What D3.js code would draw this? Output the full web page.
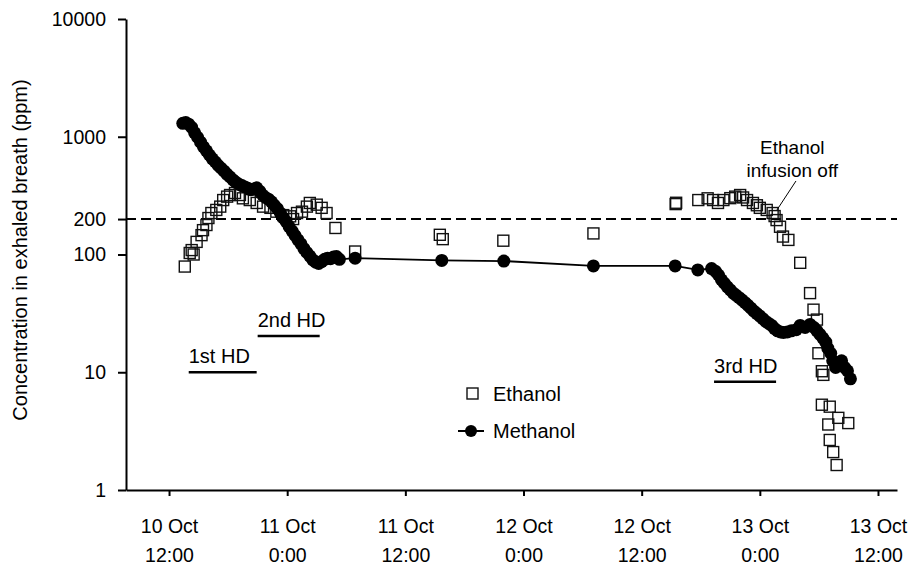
<!DOCTYPE html>
<html>
<head>
	<script src="https://cdn.jsdelivr.net/npm/d3@7"></script>
	<style>
		html, body {
			padding: 0;
			margin: 0;
			background: white;
		}
		svg text {
			font-family: "Liberation Sans", Arial, sans-serif;
			fill: black;
		}
	</style>
</head>
<body>
	<div id="chart"></div>

	<script>
		// hours counted from 10 Oct 0:00
		var xTickHours = [12, 24, 36, 48, 60, 72, 84];
		var xTickDays = ["10 Oct", "11 Oct", "11 Oct", "12 Oct", "12 Oct", "13 Oct", "13 Oct"];
		var xTickTimes = ["12:00", "0:00", "12:00", "0:00", "12:00", "0:00", "12:00"];
		var yTicks = [1, 10, 100, 200, 1000, 10000];

		// [hour, ppm]
		var ethanol = [
			[13.6, 79], [14.1, 103], [14.3, 109], [14.5, 100], [14.8, 128], [15.3, 146], [15.45, 161],
			[15.8, 178], [16.0, 204], [16.3, 225], [16.8, 239], [17.2, 255], [17.5, 290], [17.9, 310],
			[18.2, 320], [18.7, 333], [19.2, 320], [19.5, 300], [20.2, 290], [20.9, 274], [21.55, 255],
			[22.3, 249], [22.9, 231], [23.6, 216], [24.3, 211], [24.6, 200], [25.0, 225], [25.5, 231],
			[26.0, 255], [26.3, 274], [27.0, 265], [27.5, 249], [28.0, 225], [28.9, 168], [30.9, 106],
			[39.5, 147], [39.8, 135], [45.95, 131], [55.1, 151],
			[63.5, 275], [63.45, 268], [65.75, 290], [66.7, 300], [67.25, 290], [67.75, 274], [68.3, 290],
			[69.0, 301], [69.5, 310], [70.0, 320], [70.3, 305], [70.7, 290], [71.3, 274], [71.7, 262],
			[72.0, 249], [72.7, 239], [73.3, 225], [73.5, 212], [73.7, 196], [74.05, 172], [74.35, 142],
			[74.9, 133], [76.1, 85], [77.1, 47], [77.45, 34], [77.8, 28], [77.95, 14.5], [78.3, 10.2],
			[78.45, 9.5], [78.3, 5.3], [79.1, 5.1], [79.97, 4.1], [80.98, 3.7], [78.95, 3.6], [79.1, 2.66],
			[79.45, 2.1], [79.8, 1.63]
		];

		var methanol = [
			[13.4, 1300], [13.7, 1320], [14.0, 1280], [14.3, 1200], [14.6, 1080], [14.9, 990], [15.2, 900],
			[15.5, 820], [15.8, 760], [16.1, 700], [16.4, 650], [16.7, 610], [17.0, 570], [17.3, 540],
			[17.6, 510], [17.9, 480], [18.2, 455], [18.5, 430], [18.8, 410], [19.1, 395], [19.4, 385],
			[19.7, 375], [20.0, 365], [20.3, 355], [20.6, 360], [20.9, 368], [21.2, 345], [21.5, 320],
			[21.8, 305], [22.1, 295], [22.4, 280], [22.7, 262], [23.0, 245], [23.3, 225], [23.6, 205],
			[23.9, 190], [24.2, 172], [24.5, 158], [24.8, 145], [25.1, 133], [25.4, 123], [25.7, 112],
			[26.0, 104], [26.3, 97], [26.6, 90], [26.9, 86], [27.2, 84], [27.5, 87], [27.8, 91],
			[28.1, 93], [28.4, 92], [28.7, 95], [29.0, 96], [29.3, 91], [30.9, 93],
			[39.7, 89], [46.0, 88], [55.1, 80], [63.4, 80], [65.7, 74], [67.1, 76], [67.5, 72],
			[67.8, 67], [68.1, 61], [68.4, 57], [68.7, 53], [69.0, 50], [69.3, 47], [69.6, 45],
			[69.9, 43], [70.2, 41], [70.5, 39], [70.8, 37], [71.1, 35], [71.4, 33], [71.7, 31.5],
			[72.0, 30], [72.3, 28.5], [72.6, 27], [72.9, 26], [73.2, 25], [73.5, 23.5], [73.8, 22.5],
			[74.1, 22], [74.4, 21.8], [74.8, 22], [75.2, 22.5], [75.7, 23], [76.1, 25], [76.6, 24],
			[77.1, 25.5], [77.5, 24], [77.8, 22.5], [78.1, 21], [78.4, 19.5], [78.7, 18], [78.9, 16],
			[79.2, 14.5], [79.4, 12.5], [79.7, 11], [80.0, 11.8], [80.3, 12.5], [80.6, 11], [80.9, 10.3],
			[81.2, 8.8]
		];

		// dialysis sessions: start hour, end hour, ppm level of the bar
		var hdNames = ["1st HD", "2nd HD", "3rd HD"];
		var hdStart = [14.0, 21.0, 67.35];
		var hdEnd = [20.9, 27.3, 73.65];
		var hdLevel = [10, 20.3, 8.3];

		var width = 909;
		var height = 566;

		var svg = d3.select('#chart').append('svg')
			.attr('width', width)
			.attr('height', height);

		var x = d3.scaleLinear().domain([7.63, 85.93]).range([126, 897]);
		var y = d3.scaleLog().domain([1, 10000]).range([490, 19]);

		// threshold at 200 ppm
		svg.append("line")
			.attr("x1", x.range()[0]).attr("x2", x.range()[1])
			.attr("y1", y(200)).attr("y2", y(200))
			.attr("stroke", "black")
			.attr("stroke-width", 2)
			.attr("stroke-dasharray", "10,5");

		// axes
		var xAxis = svg.append("g")
			.attr("transform", "translate(0," + y.range()[0] + ")")
			.call(d3.axisBottom(x).tickValues(xTickHours).tickSize(6).tickSizeOuter(0).tickFormat(""));
		xAxis.selectAll(".tick text").remove();
		xAxis.selectAll(".tick").append("text")
			.attr("text-anchor", "middle")
			.style("font-size", "19.5px")
			.each(function(d, i) {
				var t = d3.select(this);
				t.append("tspan").attr("x", 0).attr("y", 43).text(xTickDays[i]);
				t.append("tspan").attr("x", 0).attr("y", 72).text(xTickTimes[i]);
			});

		var yAxis = svg.append("g")
			.attr("transform", "translate(" + x.range()[0] + ",0)")
			.call(d3.axisLeft(y).tickValues(yTicks).tickFormat(d3.format("d"))
				.tickSize(8).tickPadding(12).tickSizeOuter(0));
		yAxis.selectAll("text").style("font-size", "19.5px");

		svg.selectAll(".domain, .tick line")
			.attr("stroke", "black")
			.attr("stroke-width", 2);

		svg.append("text")
			.attr("transform", "translate(27,250) rotate(-90)")
			.attr("text-anchor", "middle")
			.style("font-size", "20px")
			.text("Concentration in exhaled breath (ppm)");

		// HD bars
		var hd = svg.append("g");
		hdNames.forEach(function(name, i) {
			hd.append("line")
				.attr("x1", x(hdStart[i])).attr("x2", x(hdEnd[i]))
				.attr("y1", y(hdLevel[i])).attr("y2", y(hdLevel[i]))
				.attr("stroke", "black")
				.attr("stroke-width", 2.5);
			hd.append("text")
				.attr("x", x(hdStart[i]))
				.attr("y", y(hdLevel[i]) - 9)
				.style("font-size", "20px")
				.text(name);
		});

		// ethanol squares
		var sq = 11;
		svg.append("g").selectAll("rect")
			.data(ethanol)
			.enter().append("rect")
			.attr("x", function(d) { return x(d[0]) - sq / 2; })
			.attr("y", function(d) { return y(d[1]) - sq / 2; })
			.attr("width", sq)
			.attr("height", sq)
			.attr("fill", "none")
			.attr("stroke", "#111")
			.attr("stroke-width", 1.4);

		// methanol line + dots
		var line = d3.line()
			.x(function(d) { return x(d[0]); })
			.y(function(d) { return y(d[1]); });

		svg.append("path")
			.datum(methanol)
			.attr("d", line)
			.attr("fill", "none")
			.attr("stroke", "black")
			.attr("stroke-width", 1.8);

		svg.append("g").selectAll("circle")
			.data(methanol)
			.enter().append("circle")
			.attr("cx", function(d) { return x(d[0]); })
			.attr("cy", function(d) { return y(d[1]); })
			.attr("r", 6.5)
			.attr("fill", "black");

		// annotation
		svg.append("line")
			.attr("x1", x(75.67)).attr("y1", y(421))
			.attr("x2", x(73.74)).attr("y2", y(239))
			.attr("stroke", "black")
			.attr("stroke-width", 1);
		svg.append("text")
			.attr("x", x(75.3)).attr("y", y(714))
			.attr("text-anchor", "middle")
			.style("font-size", "19px")
			.text("Ethanol");
		svg.append("text")
			.attr("x", x(75.3)).attr("y", y(455))
			.attr("text-anchor", "middle")
			.style("font-size", "19px")
			.text("infusion off");

		// legend
		var legend = svg.append("g").attr("transform", "translate(472,0)");
		legend.append("rect")
			.attr("x", -5).attr("y", 388)
			.attr("width", 11).attr("height", 11)
			.attr("fill", "none")
			.attr("stroke", "#111")
			.attr("stroke-width", 1.4);
		legend.append("text")
			.attr("x", 21).attr("y", 401)
			.style("font-size", "20px")
			.text("Ethanol");
		legend.append("line")
			.attr("x1", -14).attr("x2", 12)
			.attr("y1", 431).attr("y2", 431)
			.attr("stroke", "black")
			.attr("stroke-width", 2);
		legend.append("circle")
			.attr("cx", -1).attr("cy", 431)
			.attr("r", 6)
			.attr("fill", "black");
		legend.append("text")
			.attr("x", 21).attr("y", 438)
			.style("font-size", "20px")
			.text("Methanol");
	</script>
</body>
</html>
